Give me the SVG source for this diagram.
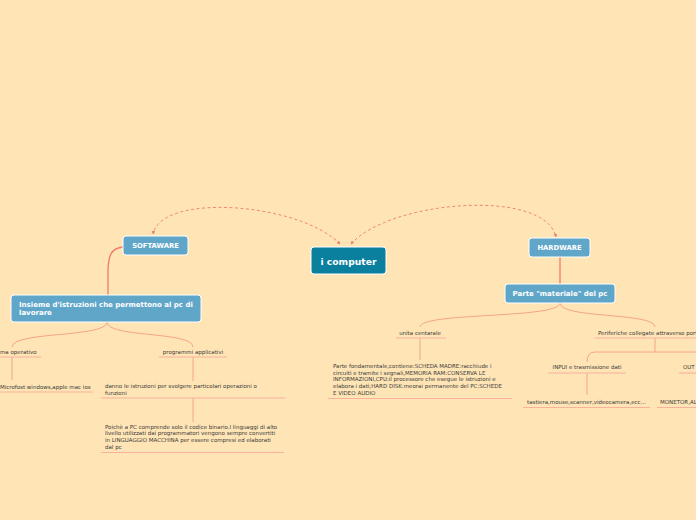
<svg xmlns="http://www.w3.org/2000/svg" width="696" height="520" viewBox="0 0 696 520">
<defs>
<style>
.bg{fill:#FFE5B6}
.node{fill:#5FA6C9;stroke:#ffffff;stroke-width:1}
.main{fill:#0A7F9E;stroke:#ffffff;stroke-width:1}
.nt{font-family:"DejaVu Sans",Verdana,sans-serif;font-weight:bold;fill:#ffffff}
.t{font-family:"DejaVu Sans",Verdana,sans-serif;font-size:5.5px;fill:#3a3a3a}
.dash{fill:none;stroke:#EE7A6E;stroke-width:0.9;stroke-dasharray:3,2.5}
.strong{fill:none;stroke:#F07A6A;stroke-width:1.3}
.br{fill:none;stroke:#F5A48C;stroke-width:1}
.ul{fill:none;stroke:#F8B29C;stroke-width:1.2}
</style>
<marker id="ah" viewBox="0 0 6 6" refX="5" refY="3" markerWidth="4" markerHeight="4" orient="auto-start-reverse">
<path d="M0,0 L6,3 L0,6 z" fill="#EE7A6E"/>
</marker>
</defs>
<rect class="bg" x="0" y="0" width="696" height="520"/>
<g id="connectors">
<path class="dash" d="M340,244 C300,203 162,192 153,234" marker-start="url(#ah)" marker-end="url(#ah)"/>
<path class="dash" d="M351,244 C390,200 545,188 556,237" marker-start="url(#ah)" marker-end="url(#ah)"/>
<path class="strong" d="M123,247 C111,248 108,256 108,272 L108,295"/>
<path class="strong" d="M560,257 L560,284"/>
<path class="br" d="M107,322 C107,338 12,331 12,347"/>
<path class="br" d="M107,322 C107,338 193,331 193,347"/>
<path class="br" d="M12,357 L12,380"/>
<path class="br" d="M193,357 L193,381"/>
<path class="br" d="M193,398 L193,422"/>
<path class="br" d="M560,303 C560,319 420,312 420,327"/>
<path class="br" d="M560,303 C560,319 655,312 655,327"/>
<path class="br" d="M420,338 L420,360"/>
<path class="br" d="M655,338 L655,352"/>
<path class="br" d="M696,352 L595,352 Q587,352 587,362"/>
<path class="br" d="M587,373 L587,395"/>
</g>
<g id="n-main">
<rect class="main" x="311" y="247" width="75" height="27" rx="3"/>
<text class="nt" x="348.5" y="264.5" font-size="9.2" text-anchor="middle">i computer</text>
</g>
<g id="n-software">
<rect class="node" x="123" y="236" width="65" height="19" rx="3"/>
<text class="nt" x="155.5" y="248.3" font-size="6.8" text-anchor="middle">SOFTAWARE</text>
</g>
<g id="n-hardware">
<rect class="node" x="529" y="238" width="61" height="19" rx="3"/>
<text class="nt" x="559.5" y="250.3" font-size="6.8" text-anchor="middle">HARDWARE</text>
</g>
<g id="n-insieme">
<rect class="node" x="11" y="295" width="190" height="27" rx="3"/>
<text class="nt" x="19" y="306.7" font-size="7">Insieme d'istruzioni che permettono al pc di</text>
<text class="nt" x="19" y="315" font-size="7">lavorare</text>
</g>
<g id="n-parte">
<rect class="node" x="505" y="284" width="110" height="19" rx="3"/>
<text class="nt" x="560" y="296.2" font-size="7" text-anchor="middle">Parte "materiale" del pc</text>
</g>
<g id="n-sistema">
<text class="t" x="0" y="354">ma operativo</text>
<path class="ul" d="M0,357 L41,357"/>
</g>
<g id="n-microsoft">
<text class="t" x="0" y="388.5">Microfost windows,apple mac ios</text>
<path class="ul" d="M0,392 L93,392"/>
</g>
<g id="n-programmi">
<text class="t" x="193" y="354" text-anchor="middle">programmi applicativi</text>
<path class="ul" d="M159,357 L227,357"/>
</g>
<g id="n-danno">
<text class="t" x="105" y="388">danno le istruzioni per svolgere particolari operazioni o</text>
<text class="t" x="105" y="395.2">funzioni</text>
<path class="ul" d="M101,398 L285,398"/>
</g>
<g id="n-poiche">
<text class="t" x="105" y="428.6">Poichè a PC comprende solo il codice binario.I linguaggi di alto</text>
<text class="t" x="105" y="435.3">livello utilizzati dai programmatori vengono sempre convertiti</text>
<text class="t" x="105" y="442">in LINGUAGGIO MACCHINA per essere compresi ed elaborati</text>
<text class="t" x="105" y="448.7">dal pc</text>
<path class="ul" d="M101,452.5 L284,452.5"/>
</g>
<g id="n-unita">
<text class="t" x="420" y="335" text-anchor="middle">unita centarale</text>
<path class="ul" d="M396,338 L446,338"/>
</g>
<g id="n-fondamentale">
<text class="t" x="333" y="368">Parte fondamentale,contiene:SCHEDA MADRE:racchiude i</text>
<text class="t" x="333" y="374.7">circuiti e tramite i segnali,MEMORIA RAM:CONSERVA LE</text>
<text class="t" x="333" y="381.4">INFORMAZIONI,CPU:il processore che esegue le istruzioni e</text>
<text class="t" x="333" y="388.1">elabora i dati;HARD DISK:meorai permanente del PC:SCHEDE</text>
<text class="t" x="333" y="394.8">E VIDEO AUDIO</text>
<path class="ul" d="M328,398.5 L512,398.5"/>
</g>
<g id="n-periferiche">
<text class="t" x="598" y="335">Periferiche collegate attraverso port</text>
<path class="ul" d="M595,338 L696,338"/>
</g>
<g id="n-input">
<text class="t" x="587" y="369" text-anchor="middle">INPUI e trasmissione dati</text>
<path class="ul" d="M548,373 L626,373"/>
</g>
<g id="n-output">
<text class="t" x="683" y="369">OUT</text>
<path class="ul" d="M679,373 L696,373"/>
</g>
<g id="n-tastiera">
<text class="t" x="527" y="404">tastiera,mouse,scanner,videocamera,ecc...</text>
<path class="ul" d="M523,407.5 L650,407.5"/>
</g>
<g id="n-monitor">
<text class="t" x="660" y="404" font-size="5.1">MONETOR,AL</text>
<path class="ul" d="M657,407.5 L696,407.5"/>
</g>
</svg>
